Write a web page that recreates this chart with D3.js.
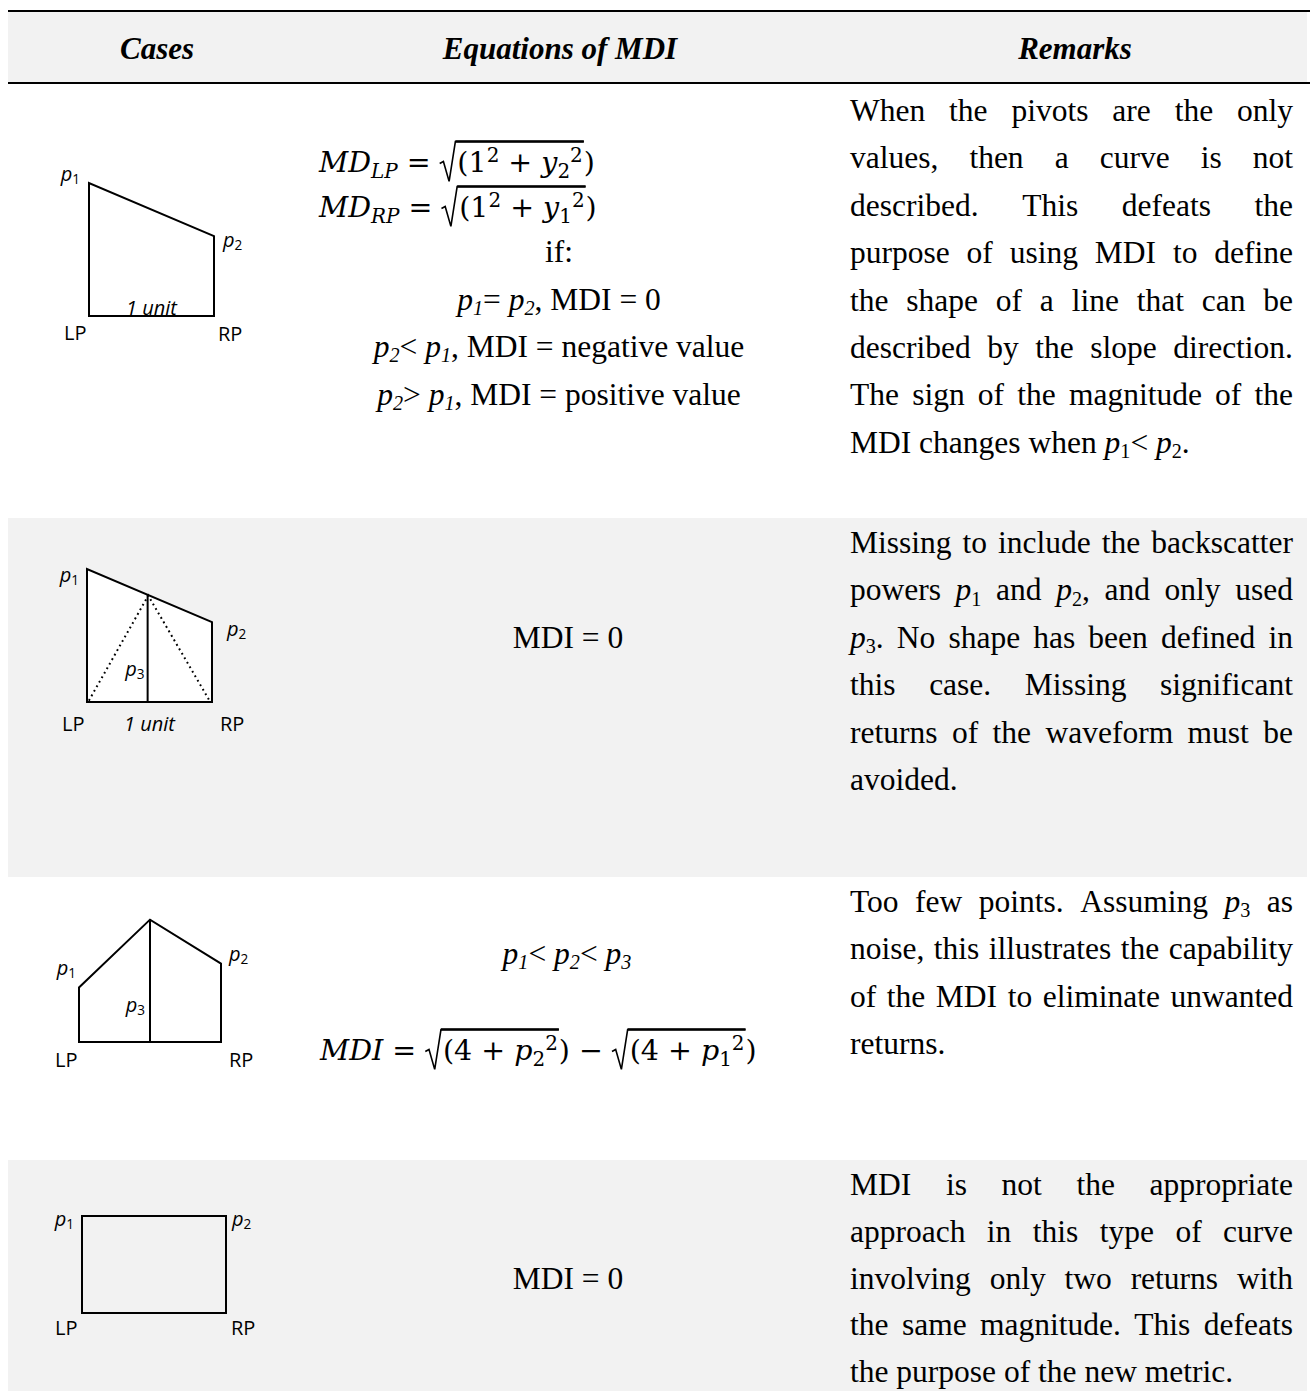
<!DOCTYPE html>
<html>
<head>
<meta charset="utf-8">
<script src="https://cdn.jsdelivr.net/npm/d3@7"></script>
<style>
	body { margin: 0; background: #fff; }
	svg { display: block; }
	text { white-space: pre; }
</style>
</head>
<body>
<div id="chart-area"></div>
<script>
/******************************
*	DATA			  *
******************************/
var headers = ["Cases", "Equations of MDI", "Remarks"];

// pivot heights of each case drawing, 1 = left pivot of case 1
var leftPivot  = [1.00, 1.00, 0.41, 0.73];
var rightPivot = [0.60, 0.60, 0.59, 0.73];
var midPivot   = [null, 0.81, 0.92, null];
var midPos     = [null, 0.485, 0.50, null];
var hasUnit    = [true, true, false, false];
var hasDots    = [false, true, false, false];

// equation column text, p_n = italic p with subscript n
var eqText = [
	["if:", "p_1= p_2, MDI = 0", "p_2< p_1, MDI = negative value", "p_2> p_1, MDI = positive value"],
	["MDI = 0"],
	["p_1< p_2< p_3"],
	["MDI = 0"]
];

// remarks, broken into lines as in the table
var remarks = [
	["When the pivots are the only", "values, then a curve is not", "described. This defeats the",
	 "purpose of using MDI to define", "the shape of a line that can be", "described by the slope direction.",
	 "The sign of the magnitude of the", "MDI changes when p_1< p_2."],
	["Missing to include the backscatter", "powers p_1 and p_2, and only used", "p_3. No shape has been defined in",
	 "this case. Missing significant", "returns of the waveform must be", "avoided."],
	["Too few points. Assuming p_3 as", "noise, this illustrates the capability", "of the MDI to eliminate unwanted",
	 "returns."],
	["MDI is not the appropriate", "approach in this type of curve", "involving only two returns with",
	 "the same magnitude. This defeats", "the purpose of the new metric."]
];

// math formulas (Cambria-like)
var sq = function(v) {
	return {sqrt: [{t: "("}, {t: "1"}, {t: "2", pos: "sup"}, {t: " + "}, {t: "y", i: 1}, {t: v, pos: "sub"}, {t: "2", pos: "sup"}]};
};
var sqp = function(v) {
	return {sqrt: [{t: "("}, {t: "4"}, {t: " + "}, {t: "p", i: 1}, {t: v, pos: "sub"}, {t: "2", pos: "sup"}]};
};
var mdLP = [{t: "MD", i: 1}, {t: "LP", i: 1, pos: "sub"}, {t: " = "}, sq("2"), {t: ")"}];
var mdRP = [{t: "MD", i: 1}, {t: "RP", i: 1, pos: "sub"}, {t: " = "}, sq("1"), {t: ")"}];
var mdi  = [{t: "MDI", i: 1}, {t: " = "}, sqp("2"), {t: ")"}, {t: " \u2212 "}, sqp("1"), {t: ")"}];

/******************************
*	LAYOUT			  *
******************************/
var W = 1310, H = 1391;
var grey = "#f2f2f2";
var serif = "'Liberation Serif', 'Times New Roman', serif";
var fs = 31.5;
var rowTop = [83, 518, 877, 1160], rowBot = [518, 877, 1160, 1391];
var remFirst = [121, 553, 912, 1195], lineH = [47.4, 47.4, 47.4, 46.8];
var remL = 850, remR = 1293;

var diag = [
	{x0: 89, x1: 214, base: 316,  p1: [-9, -2],  p2: [9, 11],  p3: null,     lp: [-25, 24], rp: [4, 25], unitY: -1, fill: "#fff"},
	{x0: 87, x1: 212, base: 702,  p1: [-8, 13],  p2: [15, 14], p3: [-3, -26], lp: [-25, 29], rp: [8, 29], unitY: 29, fill: "#fff"},
	{x0: 79, x1: 221, base: 1042, p1: [-3, -12], p2: [8, -3],  p3: [-5, -30], lp: [-24, 25], rp: [8, 25], fill: "#fff"},
	{x0: 82, x1: 226, base: 1313, p1: [-8, 10],  p2: [6, 10],  p3: null,     lp: [-27, 22], rp: [5, 22], fill: "none"}
];
var yUnit = 133;

var svg = d3.select("#chart-area").append("svg")
	.attr("width", W).attr("height", H);

/******************************
*	BACKGROUND		  *
******************************/
svg.append("rect").attr("x", 8).attr("y", 11).attr("width", 1299).attr("height", 72).attr("fill", grey);
[1, 3].forEach(function(r) {
	svg.append("rect").attr("x", 8).attr("y", rowTop[r])
		.attr("width", 1299).attr("height", rowBot[r] - rowTop[r]).attr("fill", grey);
});
[11, 83].forEach(function(y) {
	svg.append("line").attr("x1", 8).attr("x2", W).attr("y1", y).attr("y2", y)
		.attr("stroke", "#000").attr("stroke-width", 2);
});

// headers
var hx = [157, 560, 1075];
headers.forEach(function(h, i) {
	svg.append("text").attr("x", hx[i]).attr("y", 59)
		.attr("text-anchor", "middle")
		.attr("font-family", serif).attr("font-size", 31)
		.attr("font-weight", "bold").attr("font-style", "italic")
		.text(h);
});

/******************************
*	RICH TEXT HELPERS	  *
******************************/
function rich(sel, str, size, subItalic) {
	var sd = size * 0.17, shifted = false;
	str.split(/(p_\d)/).filter(function(s) { return s.length; }).forEach(function(s) {
		if (/^p_\d$/.test(s)) {
			sel.append("tspan").attr("font-style", "italic").attr("dy", shifted ? -sd : null).text("p");
			sel.append("tspan").attr("font-size", size * 0.64)
				.attr("font-style", subItalic ? "italic" : "normal")
				.attr("dy", shifted ? 0 : sd).text(s[2]);
			shifted = true;
		} else {
			sel.append("tspan").attr("dy", shifted ? -sd : null).text(s);
			shifted = false;
		}
	});
	return sel;
}

function textLine(g, x, y, str, anchor, subItalic) {
	var t = g.append("text").attr("x", x).attr("y", y)
		.attr("text-anchor", anchor || "start")
		.attr("font-family", serif).attr("font-size", fs);
	return rich(t, str, fs, subItalic);
}

// math row: returns the width used
var mfam = "'DejaVu Serif', serif", mfs = 28.5;
function mathRow(g, x, y, atoms) {
	var cx = x;
	atoms.forEach(function(a) {
		if (a.sqrt) {
			var rw = mfs * 0.62, top = y - mfs * 1.07, x0 = cx;
			var w = mathRow(g, x0 + rw, y, a.sqrt);
			g.append("path")
				.attr("d", "M" + x0 + "," + (y - mfs * 0.3) + "L" + (x0 + mfs * 0.13) + "," + (y - mfs * 0.37) +
					"L" + (x0 + mfs * 0.33) + "," + (y + mfs * 0.33) + "L" + (x0 + rw - 2) + "," + top +
					"L" + (x0 + rw + w + 1) + "," + top)
				.attr("fill", "none").attr("stroke", "#000").attr("stroke-width", 1.6);
			g.append("line").attr("x1", x0 + rw - 2).attr("x2", x0 + rw + w + 1)
				.attr("y1", top).attr("y2", top)
				.attr("stroke", "#000").attr("stroke-width", 2.4);
			cx = x0 + rw + w + 1;
			return;
		}
		var small = a.pos === "sub" || a.pos === "sup";
		var t = g.append("text").attr("x", cx)
			.attr("y", y + (a.pos === "sub" ? mfs * 0.22 : a.pos === "sup" ? -mfs * 0.34 : 0))
			.attr("font-family", mfam).attr("font-size", small ? mfs * 0.7 : mfs)
			.attr("font-style", a.i ? "italic" : "normal")
			.text(a.t);
		cx += t.node().getComputedTextLength();
	});
	return cx - x;
}

/******************************
*	CASE DRAWINGS		  *
******************************/
var sans = "'Open Sans', 'Noto Sans', sans-serif", lfs = 20;
function pLabel(g, x, y, n, anchor) {
	var t = g.append("text").attr("x", x).attr("y", y)
		.attr("text-anchor", anchor).attr("font-family", sans).attr("font-size", lfs);
	t.append("tspan").attr("font-style", "italic").text("p");
	t.append("tspan").attr("font-size", lfs * 0.68).attr("dy", 3).text(n);
}
function sLabel(g, x, y, s, anchor, italic) {
	g.append("text").attr("x", x).attr("y", y)
		.attr("text-anchor", anchor).attr("font-family", sans).attr("font-size", lfs)
		.attr("font-style", italic ? "italic" : "normal").text(s);
}

diag.forEach(function(d, i) {
	var g = svg.append("g");
	var x = d3.scaleLinear().domain([0, 1]).range([d.x0, d.x1]);
	var y = d3.scaleLinear().domain([0, 1]).range([d.base, d.base - yUnit]);
	var line = d3.line().x(function(p) { return x(p[0]); }).y(function(p) { return y(p[1]); });

	var pts = [[0, 0], [0, leftPivot[i]]];
	if (midPivot[i] != null && i === 2) pts.push([midPos[i], midPivot[i]]);
	pts.push([1, rightPivot[i]], [1, 0]);

	g.append("path").attr("d", line(pts) + "Z")
		.attr("fill", d.fill).attr("stroke", "#000").attr("stroke-width", 2)
		.attr("stroke-linejoin", "miter");

	if (midPivot[i] != null) {
		g.append("path").attr("d", line([[midPos[i], 0], [midPos[i], midPivot[i]]]))
			.attr("stroke", "#000").attr("stroke-width", 2);
	}
	if (hasDots[i]) {
		g.append("path").attr("d", line([[0.015, 0.01], [midPos[i] + 0.005, midPivot[i] - 0.01], [0.98, 0.01]]))
			.attr("fill", "none").attr("stroke", "#000").attr("stroke-width", 2)
			.attr("stroke-dasharray", "1.8 3.4");
	}

	pLabel(g, x(0) + d.p1[0], y(leftPivot[i]) + d.p1[1], "1", "end");
	pLabel(g, x(1) + d.p2[0], y(rightPivot[i]) + d.p2[1], "2", "start");
	if (d.p3) pLabel(g, x(midPos[i]) + d.p3[0], y(0) + d.p3[1], "3", "end");
	sLabel(g, x(0) + d.lp[0], y(0) + d.lp[1], "LP", "start");
	sLabel(g, x(1) + d.rp[0], y(0) + d.rp[1], "RP", "start");
	if (hasUnit[i]) sLabel(g, x(0.5), y(0) + d.unitY, "1 unit", "middle", true);
});

/******************************
*	EQUATIONS		  *
******************************/
var eqPos = [
	{x: 559, ys: [262, 310, 357, 405]},
	{x: 568, ys: [648]},
	{x: 567, ys: [964]},
	{x: 568, ys: [1289]}
];
var eg = svg.append("g");
eqText.forEach(function(lines, r) {
	lines.forEach(function(s, k) {
		textLine(eg, eqPos[r].x, eqPos[r].ys[k], s, "middle", true);
	});
});
mathRow(eg, 319, 172, mdLP);
mathRow(eg, 319, 217, mdRP);
mathRow(eg, 320, 1060, mdi);

/******************************
*	REMARKS (justified)	  *
******************************/
var rg = svg.append("g");
remarks.forEach(function(lines, r) {
	lines.forEach(function(s, k) {
		var by = remFirst[r] + k * lineH[r];
		if (k === lines.length - 1) {
			textLine(rg, remL, by, s, "start", false);
			return;
		}
		var words = s.split(" ");
		var nodes = words.map(function(w) { return textLine(rg, remL, by, w, "start", false); });
		var widths = nodes.map(function(n) { return n.node().getComputedTextLength(); });
		var gap = (remR - remL - d3.sum(widths)) / (words.length - 1);
		var cx = remL;
		nodes.forEach(function(n, j) {
			n.attr("x", cx);
			cx += widths[j] + gap;
		});
	});
});
</script>
</body>
</html>
